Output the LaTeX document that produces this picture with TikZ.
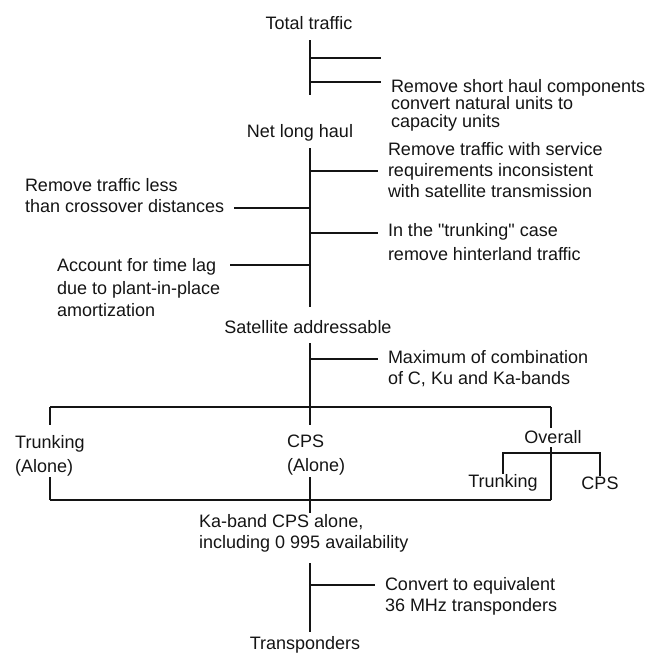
\documentclass[tikz,border=0pt]{standalone}
\usepackage{fontspec}
\setmainfont{Liberation Sans}
\usepackage{xcolor}
\usepackage{tikz}
\usetikzlibrary{
  positioning,
  calc
}
\definecolor{Ink}{HTML}{141414}
\tikzset{
  stage/.style={
    inner sep=0pt,
    text=Ink,
    align=left,
    font=\fontsize{18}{21}\selectfont
  },
  note/.style={
    stage,
    anchor=west,
    outer xsep=10pt
  },
  link/.style={
    draw=Ink,
    line width=1.6pt
  }
}

\begin{document}
\begin{tikzpicture}[
  x=1pt,
  y=-1pt
]

  \useasboundingbox (0,0) rectangle (648,657);

  \node[stage] (total) at (309,23) {Total traffic};

  \node[
    note,
    font=\fontsize{18}{17.5}\selectfont
  ] (shortHaul) at (381,105) {
    Remove short haul components\\
    convert natural units to\\
    capacity units
  };

  \node[stage] (netLong) at (300,133) {Net long haul};

  \node[note] (service) at (378,170.5) {
    Remove traffic with service\\
    requirements inconsistent\\
    with satellite transmission
  };

  \node[note] (crossover) at (15,195.5) {
    Remove traffic less\\
    than crossover distances
  };

  \node[
    note,
    font=\fontsize{18}{24}\selectfont
  ] (hinterland) at (378,242.5) {
    In the \textquotedbl trunking\textquotedbl{} case\\
    remove hinterland traffic
  };

  \node[
    note,
    font=\fontsize{18}{22.5}\selectfont
  ] (timeLag) at (47,288) {
    Account for time lag\\
    due to plant-in-place\\
    amortization
  };

  \node[stage] (satAddr) at (308,327) {Satellite addressable};

  \node[note] (bands) at (378,369) {
    Maximum of combination\\
    of C, Ku and Ka-bands
  };

  \node[
    stage,
    anchor=west,
    font=\fontsize{18}{24}\selectfont
  ] (trunkAlone) at (15,455.5) {
    Trunking\\
    (Alone)
  };

  \node[
    stage,
    anchor=west,
    font=\fontsize{18}{24}\selectfont
  ] (cpsAlone) at (287,455.5) {
    CPS\\
    (Alone)
  };

  \node[stage] (overall) at (553,437) {Overall};
  \node[stage, outer ysep=1pt] (subTrunk) at (503,483) {Trunking};
  \node[stage, outer ysep=1pt] (subCps) at (600,483) {CPS};

  \node[
    stage,
    anchor=west
  ] (kaBand) at (199,533) {
    Ka-band CPS alone,\\
    including 0 995 availability
  };

  \node[note] (convert) at (375,596) {
    Convert to equivalent\\
    36 MHz transponders
  };

  \node[stage] (transp) at (305,645) {Transponders};

  \coordinate (topA) at (310,40);
  \coordinate (topB) at (310,95);
  \coordinate (midA) at (310,148);
  \coordinate (midB) at (310,307);
  \coordinate (lowA) at (310,343);
  \coordinate (boxTop) at (310,407);
  \coordinate (boxLeft) at (50,407);
  \coordinate (boxRight) at (551,407);
  \coordinate (boxBotLeft) at (50,500);
  \coordinate (boxBotRight) at (551,500);
  \coordinate (boxBot) at (310,513);
  \coordinate (trunkUp) at (50,425);
  \coordinate (trunkDown) at (50,477);
  \coordinate (cpsUp) at (310,425);
  \coordinate (cpsDown) at (310,477);
  \coordinate (overallUp) at (551,428);
  \coordinate (overallDown) at (551,447);
  \coordinate (split) at (551,453);
  \coordinate (endA) at (310,563);
  \coordinate (endB) at (310,632);

  \coordinate (brA) at (310,58);
  \coordinate (brB) at (310,82);
  \coordinate (brC) at (310,171);
  \coordinate (brD) at (310,208);
  \coordinate (brE) at (310,233);
  \coordinate (brF) at (310,265);
  \coordinate (brG) at (310,359);
  \coordinate (brH) at (310,585);

  \draw[link] (topA) -- (topB);
  \draw[link] (brA) -- (brA -| shortHaul.west);
  \draw[link] (brB) -- (brB -| shortHaul.west);

  \draw[link] (midA) -- (midB);
  \draw[link] (brC) -- (brC -| service.west);
  \draw[link] (crossover.east |- brD) -- (brD);
  \draw[link] (brE) -- (brE -| hinterland.west);
  \draw[link] (timeLag.east |- brF) -- (brF);

  \draw[link] (lowA) -- (boxTop);
  \draw[link] (brG) -- (brG -| bands.west);

  \draw[link] (boxLeft) -- (boxRight);
  \draw[link] (boxBotLeft) -- (boxBotRight);
  \draw[link] (boxLeft) -- (trunkUp);
  \draw[link] (trunkDown) -- (boxBotLeft);
  \draw[link] (boxTop) -- (cpsUp);
  \draw[link] (cpsDown) -- (boxBot);
  \draw[link] (boxRight) -- (overallUp);
  \draw[link] (overallDown) -- (boxBotRight);
  \draw[link] (subTrunk.north) |- (split) -| (subCps.north);

  \draw[link] (endA) -- (endB);
  \draw[link] (brH) -- (brH -| convert.west);

\end{tikzpicture}
\end{document}
